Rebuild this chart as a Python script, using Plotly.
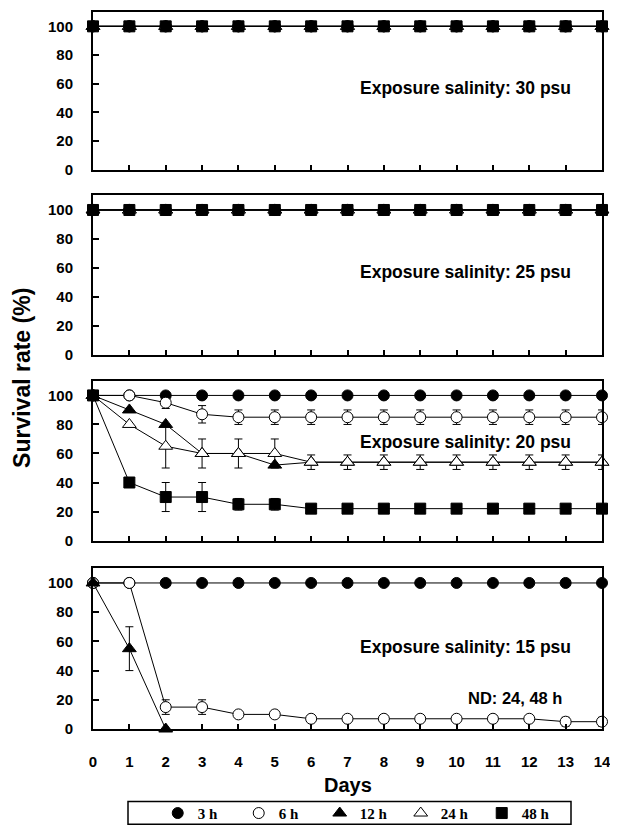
import plotly.graph_objects as go

# ---------------- data ----------------
days = [0, 1, 2, 3, 4, 5, 6, 7, 8, 9, 10, 11, 12, 13, 14]
series_names = ["3 h", "6 h", "12 h", "24 h", "48 h"]

# Exposure salinity 30 psu
s30_3h = [100, 100, 100, 100, 100, 100, 100, 100, 100, 100, 100, 100, 100, 100, 100]
s30_6h = [100, 100, 100, 100, 100, 100, 100, 100, 100, 100, 100, 100, 100, 100, 100]
s30_12h = [100, 100, 100, 100, 100, 100, 100, 100, 100, 100, 100, 100, 100, 100, 100]
s30_24h = [100, 100, 100, 100, 100, 100, 100, 100, 100, 100, 100, 100, 100, 100, 100]
s30_48h = [100, 100, 100, 100, 100, 100, 100, 100, 100, 100, 100, 100, 100, 100, 100]

# Exposure salinity 25 psu
s25_3h = [100, 100, 100, 100, 100, 100, 100, 100, 100, 100, 100, 100, 100, 100, 100]
s25_6h = [100, 100, 100, 100, 100, 100, 100, 100, 100, 100, 100, 100, 100, 100, 100]
s25_12h = [100, 100, 100, 100, 100, 100, 100, 100, 100, 100, 100, 100, 100, 100, 100]
s25_24h = [100, 100, 100, 100, 100, 100, 100, 100, 100, 100, 100, 100, 100, 100, 100]
s25_48h = [100, 100, 100, 100, 100, 100, 100, 100, 100, 100, 100, 100, 100, 100, 100]

# Exposure salinity 20 psu
s20_3h = [100, 100, 100, 100, 100, 100, 100, 100, 100, 100, 100, 100, 100, 100, 100]
s20_6h = [100, 100, 95, 87, 85, 85, 85, 85, 85, 85, 85, 85, 85, 85, 85]
s20_6h_err = [None, None, 4, 6, 5, 5, 5, 5, 5, 5, 5, 5, 5, 5, 5]
s20_12h = [100, 90, 80, 60, 60, 52, 54, 54, 54, 54, 54, 54, 54, 54, 54]
s20_24h = [100, 80, 65, 60, 60, 60, 54, 54, 54, 54, 54, 54, 54, 54, 54]
s20_24h_err = [None, None, 15, 10, 10, 10, 5, 5, 5, 5, 5, 5, 5, 5, 5]
s20_48h = [100, 40, 30, 30, 25, 25, 22, 22, 22, 22, 22, 22, 22, 22, 22]
s20_48h_err = [None, None, 10, 10, 4, 4, None, None, None, None, None, None, None, None, None]

# Exposure salinity 15 psu (24 h and 48 h not determined)
s15_3h = [100, 100, 100, 100, 100, 100, 100, 100, 100, 100, 100, 100, 100, 100, 100]
s15_6h = [100, 100, 15, 15, 10, 10, 7, 7, 7, 7, 7, 7, 7, 5, 5]
s15_6h_err = [None, None, 5, 5, None, None, None, None, None, None, None, None, None, 3, 3]
s15_12h = [100, 55, 0]
s15_12h_err = [None, 15, None]

panel_labels = ["Exposure salinity: 30 psu", "Exposure salinity: 25 psu",
                "Exposure salinity: 20 psu", "Exposure salinity: 15 psu"]

# ---------------- styles ----------------
FONT = "Arial, Liberation Sans, sans-serif"
marker_styles = {
    "3 h": dict(symbol="circle", size=11, color="black", line=dict(color="black", width=1)),
    "6 h": dict(symbol="circle", size=11, color="white", line=dict(color="black", width=1)),
    "12 h": dict(symbol="triangle-up", size=12, color="black", line=dict(color="black", width=1)),
    "24 h": dict(symbol="triangle-up", size=12, color="white", line=dict(color="black", width=1)),
    "48 h": dict(symbol="square", size=11, color="black", line=dict(color="black", width=1)),
}

fig = go.Figure()

panels = [
    [("3 h", s30_3h, None), ("6 h", s30_6h, None), ("12 h", s30_12h, None),
     ("24 h", s30_24h, None), ("48 h", s30_48h, None)],
    [("3 h", s25_3h, None), ("6 h", s25_6h, None), ("12 h", s25_12h, None),
     ("24 h", s25_24h, None), ("48 h", s25_48h, None)],
    [("3 h", s20_3h, None), ("6 h", s20_6h, s20_6h_err), ("12 h", s20_12h, None),
     ("24 h", s20_24h, s20_24h_err), ("48 h", s20_48h, s20_48h_err)],
    [("3 h", s15_3h, None), ("6 h", s15_6h, s15_6h_err), ("12 h", s15_12h, s15_12h_err)],
]

for i, panel in enumerate(panels):
    ax = "" if i == 0 else str(i + 1)
    for name, vals, err in panel:
        tr = dict(
            x=days[:len(vals)], y=vals, mode="lines+markers", name=name,
            line=dict(color="black", width=1),
            marker=marker_styles[name], cliponaxis=False, showlegend=False,
            xaxis="x" + ax, yaxis="y" + ax,
        )
        if err is not None:
            tr["error_y"] = dict(type="data", array=err, visible=True,
                                 color="black", thickness=1, width=4)
        fig.add_trace(go.Scatter(**tr))

# legend entries (marker only)
for name in series_names:
    fig.add_trace(go.Scatter(x=[None], y=[None], mode="markers", name=name,
                             marker=marker_styles[name], showlegend=True,
                             xaxis="x4", yaxis="y4"))

# the page is drawn with an 8 px body margin; plot area on screen: x 93..602, y 10..733
H = 723.0
def dom(top, bottom):
    return [(733 - bottom) / H, (733 - top) / H]

domains = [dom(10, 169), dom(195, 356), dom(382, 543), dom(571, 733)]

layout = dict(
    width=610, height=824,
    margin=dict(l=85, r=16, t=2, b=99),
    paper_bgcolor="white", plot_bgcolor="white",
    font=dict(family=FONT, color="black", size=14),
    showlegend=True,
    legend=dict(orientation="h", x=0.525, xanchor="center",
                y=(733 - 818) / H, yanchor="middle",
                font=dict(family="Times New Roman, Liberation Serif, serif",
                          size=15, weight="bold"),
                entrywidth=36, entrywidthmode="pixels",
                bgcolor="rgba(0,0,0,0)", borderwidth=0,
                itemclick=False, itemdoubleclick=False),
)

for i in range(4):
    ax = "" if i == 0 else str(i + 1)
    layout["xaxis" + ax] = dict(
        domain=[0, 1], range=[0, 14], anchor="y" + ax,
        showline=True, linecolor="black", linewidth=2, mirror=True,
        ticks="inside", ticklen=5, tickwidth=1.5, tickcolor="black",
        tickvals=days, ticktext=[str(d) for d in days],
        showticklabels=(i == 3), showgrid=False, zeroline=False,
        tickfont=dict(size=15, weight="bold"), ticklabelstandoff=18,
    )
    layout["yaxis" + ax] = dict(
        domain=domains[i], range=[0, 110], anchor="x" + ax,
        showline=True, linecolor="black", linewidth=2, mirror=True,
        ticks="inside", ticklen=6, tickwidth=1.5, tickcolor="black",
        tickvals=[0, 20, 40, 60, 80, 100],
        showgrid=False, zeroline=False,
        tickfont=dict(size=15, weight="bold"), ticklabelstandoff=15,
    )

fig.update_layout(**layout)

# panel labels
label_y = [57, 57, 68, 56]
for i, txt in enumerate(panel_labels):
    ax = "" if i == 0 else str(i + 1)
    fig.add_annotation(x=13.2, y=label_y[i], xref="x" + ax, yref="y" + ax,
                       text=txt, showarrow=False, xanchor="right", yanchor="middle",
                       font=dict(size=17.5, weight="bold"))
fig.add_annotation(x=12.95, y=21.5, xref="x4", yref="y4", text="ND: 24, 48 h",
                   showarrow=False, xanchor="right", yanchor="middle",
                   font=dict(size=16.5, weight="bold"))

# axis titles
fig.add_annotation(x=(22 - 93) / 509, y=(733 - 379) / H, xref="paper", yref="paper",
                   text="Survival rate (%)", textangle=-90, showarrow=False,
                   xanchor="center", yanchor="middle",
                   font=dict(size=23, weight="bold"))
fig.add_annotation(x=0.5, y=(733 - 789) / H, xref="paper", yref="paper",
                   text="Days", showarrow=False, xanchor="center", yanchor="middle",
                   font=dict(size=20, weight="bold"))

# legend frame
fig.add_shape(type="rect", xref="paper", yref="paper",
              x0=(128 - 93) / 509, x1=(571 - 93) / 509,
              y0=(733 - 829) / H, y1=(733 - 806) / H,
              line=dict(color="black", width=1.5), fillcolor="rgba(0,0,0,0)")

fig.write_html("out.html")
